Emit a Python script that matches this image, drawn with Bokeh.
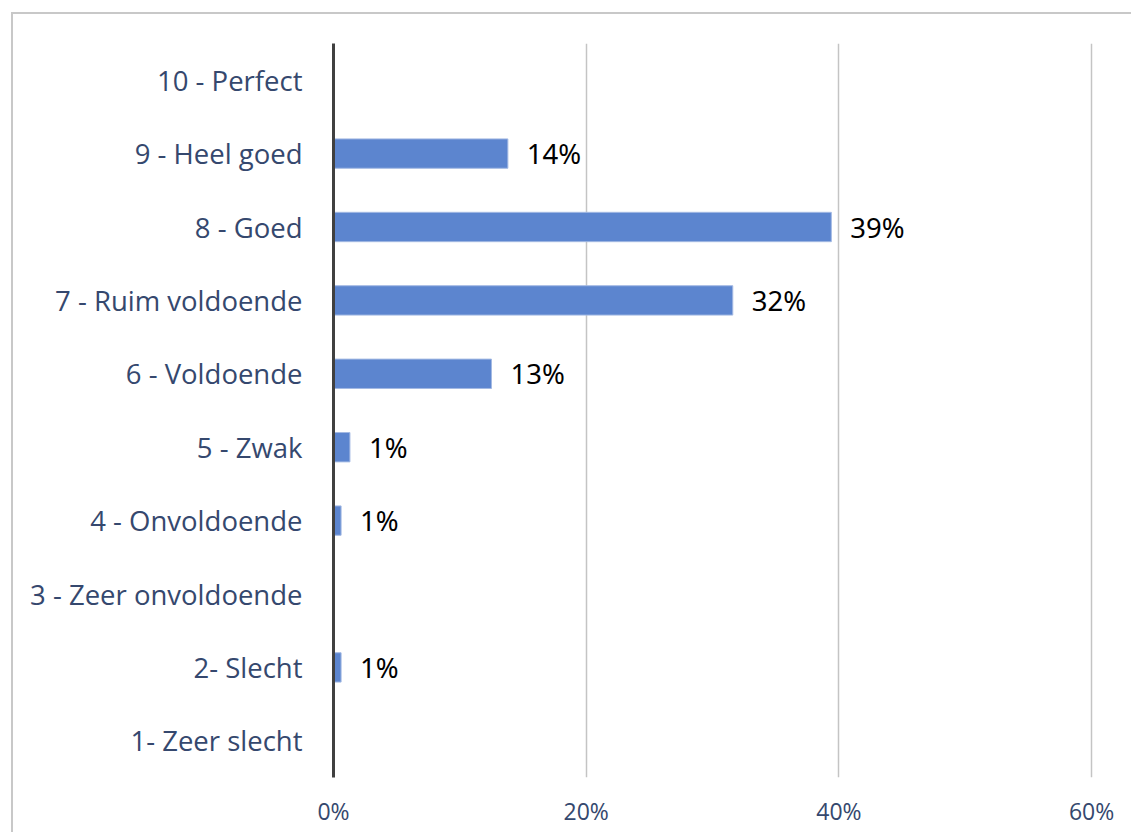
from bokeh.plotting import figure
from bokeh.models import ColumnDataSource, FixedTicker, NumeralTickFormatter, Range1d, FactorRange
from bokeh.core.properties import value
from bokeh.embed import file_html
from bokeh.resources import INLINE

# Data (bottom to top)
categories = ["1- Zeer slecht", "2- Slecht", "3 - Zeer onvoldoende", "4 - Onvoldoende",
              "5 - Zwak", "6 - Voldoende", "7 - Ruim voldoende", "8 - Goed",
              "9 - Heel goed", "10 - Perfect"]
shares = [0.0, 0.006, 0.0, 0.006, 0.013, 0.125, 0.316, 0.394, 0.138, 0.0]
bar_labels = ["", "1%", "", "1%", "1%", "13%", "32%", "39%", "14%", ""]
x_ticks = [0, 0.2, 0.4, 0.6]

src = ColumnDataSource(dict(cat=categories, val=shares))
lab_cat = [c for c, l in zip(categories, bar_labels) if l]
lab_val = [v for v, l in zip(shares, bar_labels) if l]
lab_txt = [l for l in bar_labels if l]
lab_src = ColumnDataSource(dict(cat=lab_cat, val=lab_val, txt=lab_txt))

p = figure(width=1120, height=820, y_range=FactorRange(*categories),
           x_range=Range1d(0, 0.6015), output_backend="svg", toolbar_location=None,
           min_border_left=320, min_border_right=40, min_border_top=29, min_border_bottom=57,
           styles={"margin-left": "11px", "margin-top": "12px",
                   "border-left": "2px solid #c8c8c8", "border-top": "2px solid #c8c8c8"})
p.outline_line_color = None

p.hbar(y="cat", right="val", left=0, height=0.4, source=src,
       fill_color="#5c85cf", line_color="#a3b9e3", line_width=1)

p.text(x="val", y="cat", text="txt", source=lab_src, x_offset=19,
       text_align="left", text_baseline="middle", text_color="#000000",
       text_font=value("Noto Sans"), text_font_size="27.5px")

label_color = "#35486e"

# x axis
p.xaxis.ticker = FixedTicker(ticks=x_ticks)
p.xaxis.formatter = NumeralTickFormatter(format="0%")
p.xaxis.axis_line_color = None
p.xaxis.major_tick_line_color = None
p.xaxis.minor_tick_line_color = None
p.xaxis.major_label_text_font = "Open Sans"
p.xaxis.major_label_text_font_size = "23px"
p.xaxis.major_label_text_color = label_color
p.xaxis.major_label_standoff = 11

# y axis
p.yaxis.axis_line_color = "#404040"
p.yaxis.axis_line_width = 3
p.yaxis.major_tick_line_color = None
p.yaxis.minor_tick_line_color = None
p.yaxis.major_label_text_font = "Open Sans"
p.yaxis.major_label_text_font_size = "27.5px"
p.yaxis.major_label_text_color = label_color
p.yaxis.major_label_standoff = 25

# grids
p.ygrid.grid_line_color = None
p.xgrid.ticker = FixedTicker(ticks=x_ticks[1:])
p.xgrid.grid_line_color = "#c4c4c4"
p.xgrid.grid_line_width = 1.5

open("out.html", "w").write(file_html(p, INLINE))
